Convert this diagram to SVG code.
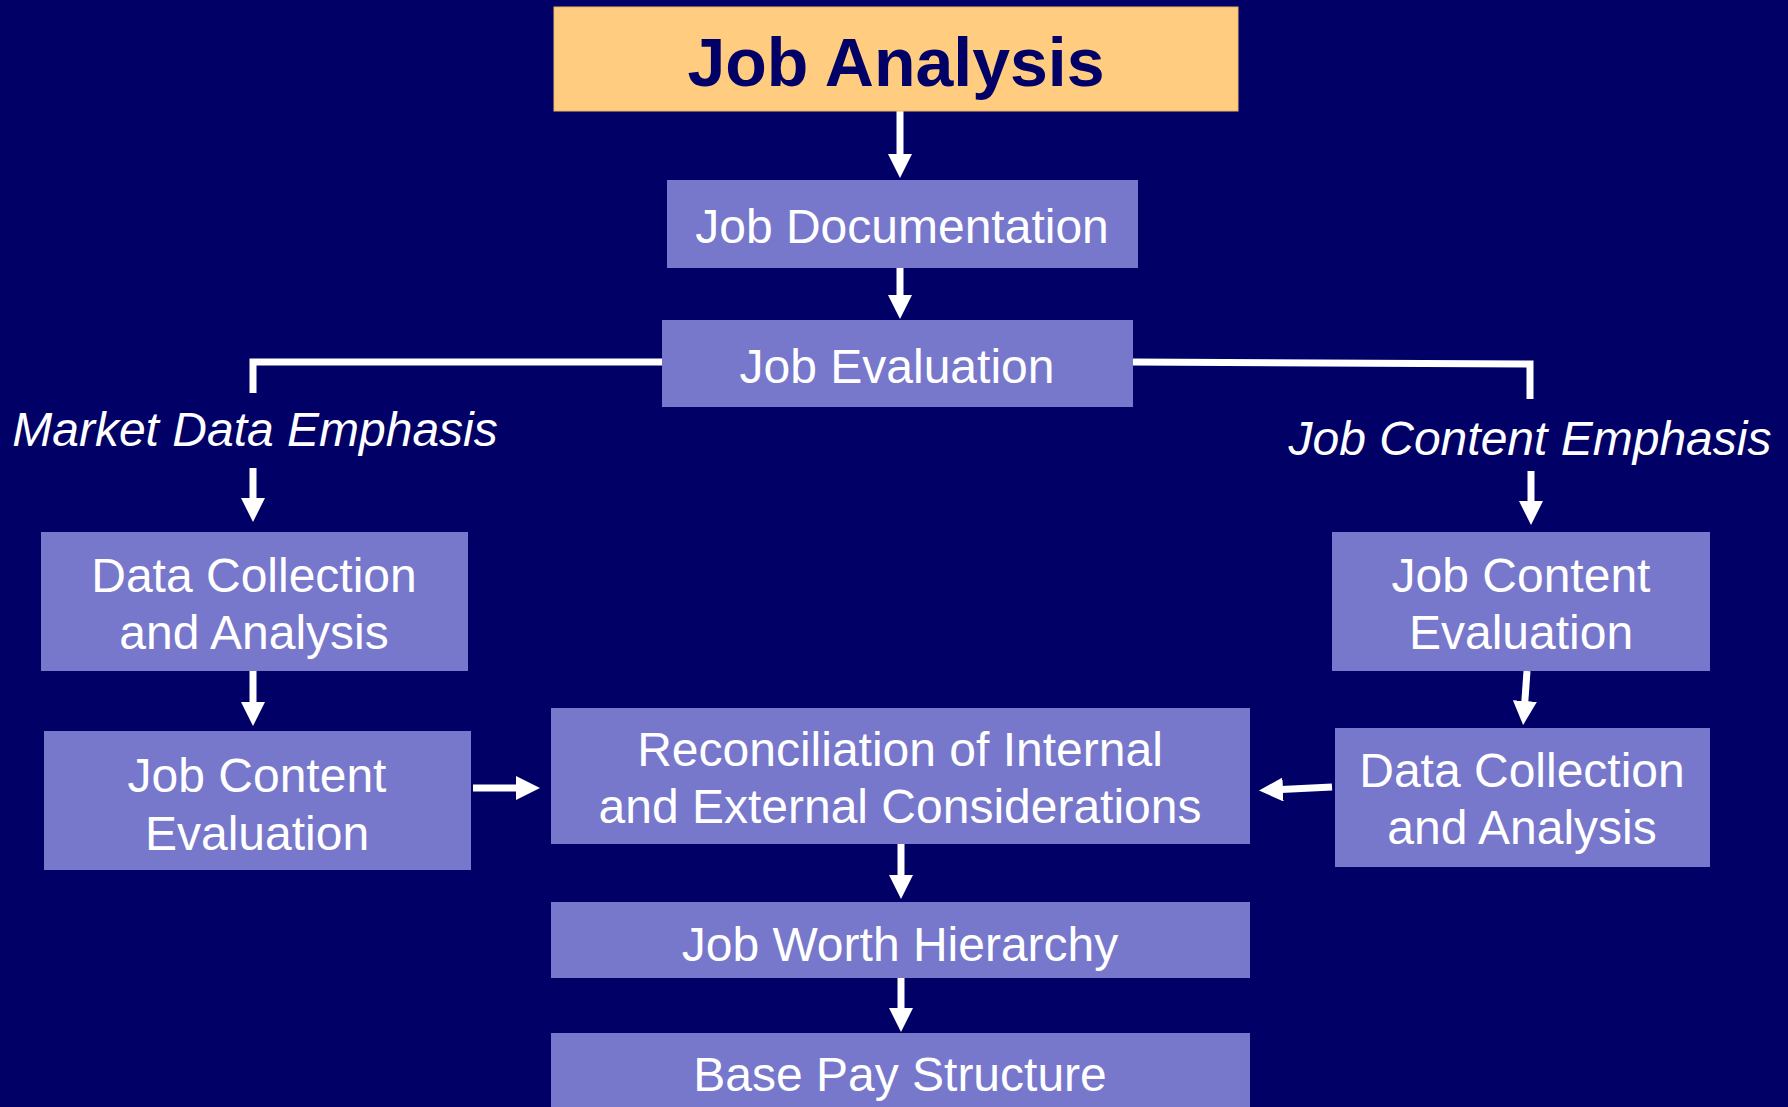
<svg xmlns="http://www.w3.org/2000/svg" width="1788" height="1107" viewBox="0 0 1788 1107">
  <style>
    .box { fill: #7777CC; }
    .lbl { font-family: "Liberation Sans", Arial, sans-serif; font-size: 48px; fill: #FFFFFF; text-anchor: middle; }
    .emph { font-family: "Liberation Sans", Arial, sans-serif; font-size: 48px; font-style: italic; fill: #FFFFFF; text-anchor: middle; }
    .wire { fill: none; stroke: #FFFFFF; stroke-width: 7; }
    .arrow { fill: none; stroke: #FFFFFF; stroke-width: 7; marker-end: url(#head); }
  </style>
  <defs>
    <marker id="head" viewBox="0 0 24 24" refX="12" refY="12" markerWidth="24" markerHeight="24" markerUnits="userSpaceOnUse" orient="auto">
      <path d="M0,0 L24,12 L0,24 Z" fill="#FFFFFF"/>
    </marker>
  </defs>

  <rect x="0" y="0" width="1788" height="1107" fill="#000066"/>

  <!-- connectors -->
  <g id="connectors">
    <line class="arrow" x1="900" y1="111" x2="900" y2="166"/>
    <line class="arrow" x1="900" y1="268" x2="900" y2="307"/>
    <polyline class="wire" points="662,362 253,362 253,393"/>
    <polyline class="wire" points="1133,362 1530,364 1530,399"/>
    <line class="arrow" x1="253" y1="468" x2="253" y2="510"/>
    <line class="arrow" x1="1531" y1="471" x2="1531" y2="513"/>
    <line class="arrow" x1="253" y1="671" x2="253" y2="714"/>
    <line class="arrow" x1="1527" y1="671" x2="1524" y2="713"/>
    <line class="arrow" x1="473" y1="788" x2="528" y2="788"/>
    <line class="arrow" x1="1332" y1="787" x2="1271" y2="790"/>
    <line class="arrow" x1="901" y1="844" x2="901" y2="887"/>
    <line class="arrow" x1="901" y1="978" x2="901" y2="1020"/>
  </g>

  <!-- nodes -->
  <g id="job-analysis">
    <rect x="554" y="7" width="684" height="104" fill="#FFCC80" stroke="#E8B468" stroke-width="1"/>
    <text x="896" y="86" font-family="'Liberation Sans', Arial, sans-serif" font-size="68" font-weight="bold" fill="#000066" text-anchor="middle">Job Analysis</text>
  </g>

  <g id="job-documentation">
    <rect class="box" x="667" y="180" width="471" height="88"/>
    <text class="lbl" x="902" y="243">Job Documentation</text>
  </g>

  <g id="job-evaluation">
    <rect class="box" x="662" y="320" width="471" height="87"/>
    <text class="lbl" x="897" y="383">Job Evaluation</text>
  </g>

  <g id="market-data-emphasis">
    <text class="emph" x="255" y="446">Market Data Emphasis</text>
  </g>

  <g id="job-content-emphasis">
    <text class="emph" x="1530" y="455">Job Content Emphasis</text>
  </g>

  <g id="market-data-collection">
    <rect class="box" x="41" y="532" width="427" height="139"/>
    <text class="lbl" x="254" y="592">Data Collection</text>
    <text class="lbl" x="254" y="649">and Analysis</text>
  </g>

  <g id="market-job-content-evaluation">
    <rect class="box" x="44" y="731" width="427" height="139"/>
    <text class="lbl" x="257" y="792">Job Content</text>
    <text class="lbl" x="257" y="850">Evaluation</text>
  </g>

  <g id="content-job-content-evaluation">
    <rect class="box" x="1332" y="532" width="378" height="139"/>
    <text class="lbl" x="1521" y="592">Job Content</text>
    <text class="lbl" x="1521" y="649">Evaluation</text>
  </g>

  <g id="content-data-collection">
    <rect class="box" x="1335" y="728" width="375" height="139"/>
    <text class="lbl" x="1522" y="787">Data Collection</text>
    <text class="lbl" x="1522" y="844">and Analysis</text>
  </g>

  <g id="reconciliation">
    <rect class="box" x="551" y="708" width="699" height="136"/>
    <text class="lbl" x="900" y="766">Reconciliation of Internal</text>
    <text class="lbl" x="900" y="823">and External Considerations</text>
  </g>

  <g id="job-worth-hierarchy">
    <rect class="box" x="551" y="902" width="699" height="76"/>
    <text class="lbl" x="900" y="961">Job Worth Hierarchy</text>
  </g>

  <g id="base-pay-structure">
    <rect class="box" x="551" y="1033" width="699" height="90"/>
    <text class="lbl" x="900" y="1091">Base Pay Structure</text>
  </g>
</svg>
